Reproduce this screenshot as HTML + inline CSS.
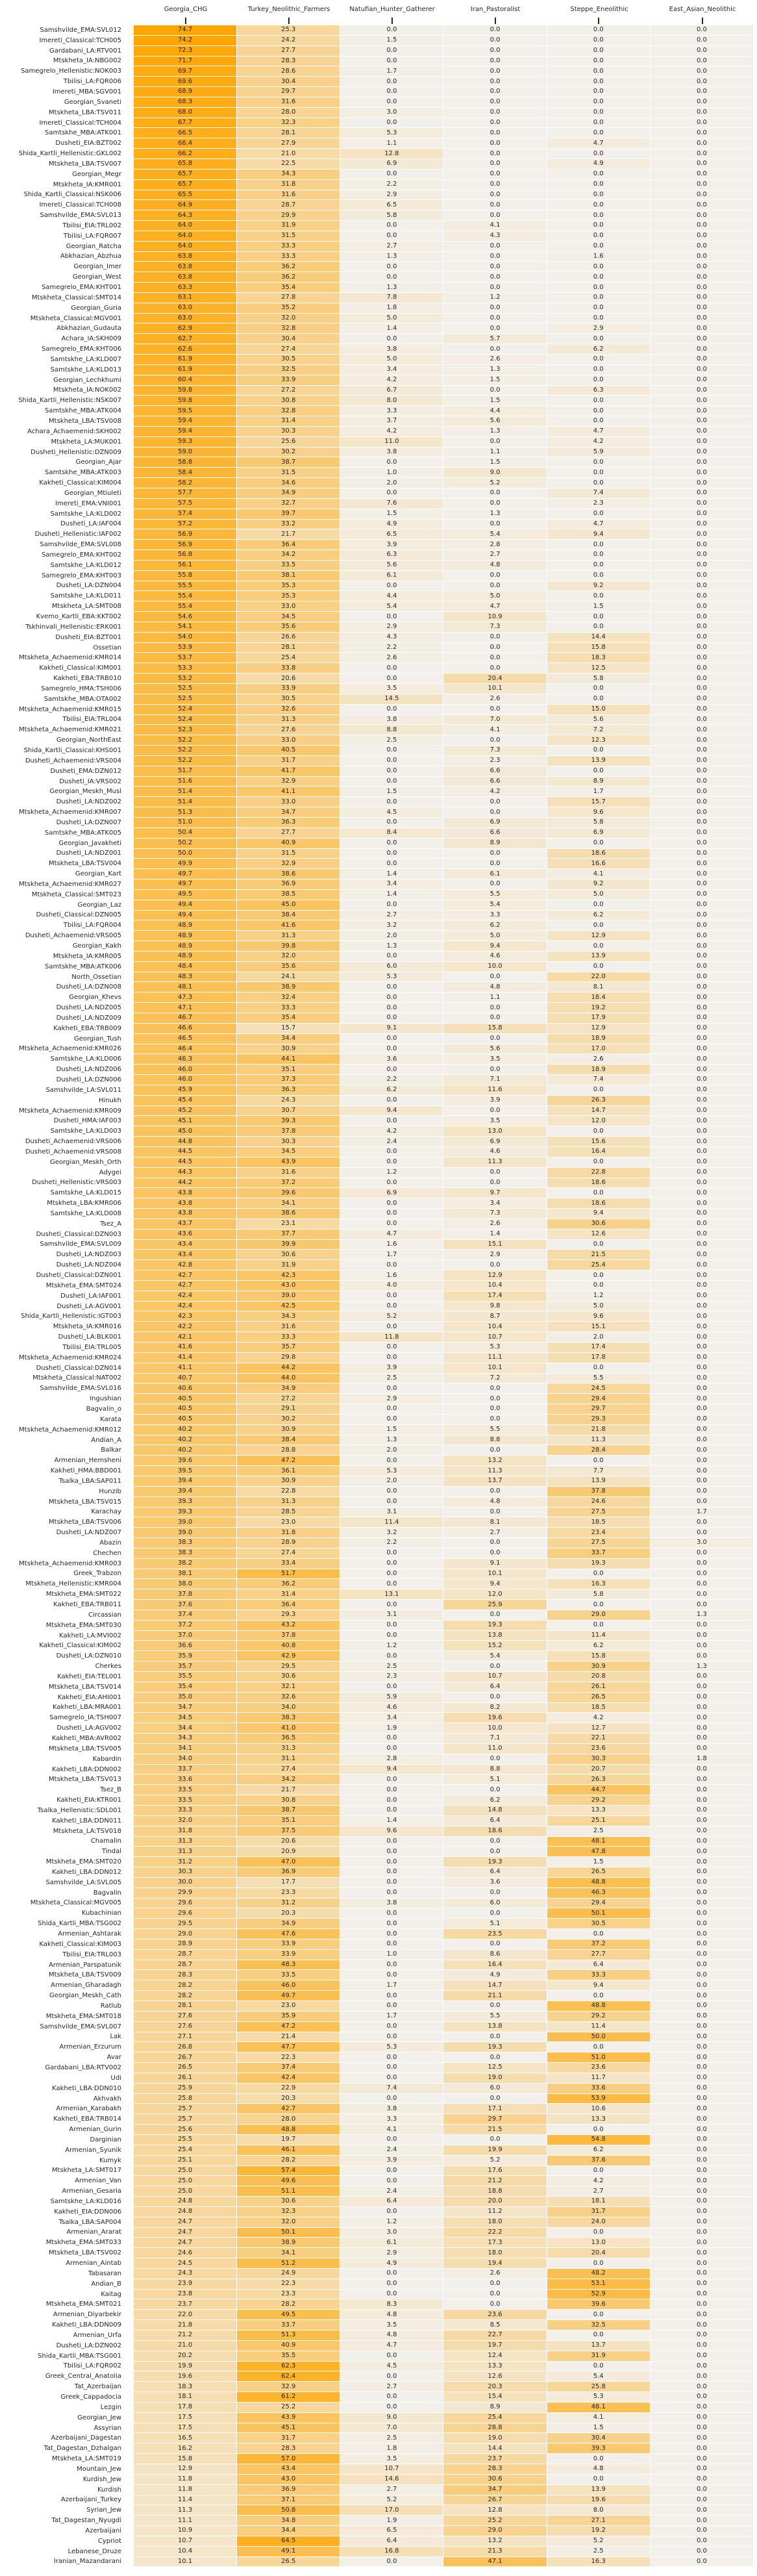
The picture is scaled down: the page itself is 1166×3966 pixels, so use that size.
<!DOCTYPE html>
<html><head><meta charset="utf-8">
<style>
html,body{margin:0;padding:0;background:#fff;}
body{width:1166px;height:3966px;position:relative;overflow:hidden;font-family:"DejaVu Sans","Liberation Sans",sans-serif;font-size:10px;color:#262626;}
.h{position:absolute;top:9px;width:160px;text-align:center;font-size:10px;color:#262626;white-space:nowrap;}
.t{position:absolute;top:27px;width:2px;height:10px;background:#262626;}
table{position:absolute;top:39px;left:0;width:1161px;table-layout:fixed;border-collapse:separate;border-spacing:0;}
col.a{width:206px;} col.b{width:159.17px;}
th{font-weight:normal;text-align:right;padding:0 19px 0 0;height:15.858px;white-space:nowrap;box-sizing:border-box;line-height:14px;}
td{padding:0;height:15.858px;box-sizing:border-box;border-right:1px solid #fff;border-bottom:1px solid #fff;text-align:center;line-height:14px;background:#f3f0eb;}
</style></head><body>
<div class="h" style="left:206px">Georgia_CHG</div>
<div class="h" style="left:365px">Turkey_Neolithic_Farmers</div>
<div class="h" style="left:524px">Natufian_Hunter_Gatherer</div>
<div class="h" style="left:683px">Iran_Pastoralist</div>
<div class="h" style="left:843px">Steppe_Eneolithic</div>
<div class="h" style="left:1002px">East_Asian_Neolithic</div>
<div class="t" style="left:284.6px"></div>
<div class="t" style="left:443.8px"></div>
<div class="t" style="left:603px"></div>
<div class="t" style="left:762.2px"></div>
<div class="t" style="left:921.3px"></div>
<div class="t" style="left:1080.5px"></div>
<table id="tb">
<colgroup><col class="a"><col class="b"><col class="b"><col class="b"><col class="b"><col class="b"><col class="b"></colgroup>
<tbody>
<tr><th>Samshvilde_EMA:SVL012<td>74.7<td>25.3<td>0.0<td>0.0<td>0.0<td>0.0
<tr><th>Imereti_Classical:TCH005<td>74.2<td>24.2<td>1.5<td>0.0<td>0.0<td>0.0
<tr><th>Gardabani_LA:RTV001<td>72.3<td>27.7<td>0.0<td>0.0<td>0.0<td>0.0
<tr><th>Mtskheta_IA:NBG002<td>71.7<td>28.3<td>0.0<td>0.0<td>0.0<td>0.0
<tr><th>Samegrelo_Hellenistic:NOK003<td>69.7<td>28.6<td>1.7<td>0.0<td>0.0<td>0.0
<tr><th>Tbilisi_LA:FQR006<td>69.6<td>30.4<td>0.0<td>0.0<td>0.0<td>0.0
<tr><th>Imereti_MBA:SGV001<td>68.9<td>29.7<td>0.0<td>0.0<td>0.0<td>0.0
<tr><th>Georgian_Svaneti<td>68.3<td>31.6<td>0.0<td>0.0<td>0.0<td>0.0
<tr><th>Mtskheta_LBA:TSV011<td>68.0<td>28.0<td>3.0<td>0.0<td>0.0<td>0.0
<tr><th>Imereti_Classical:TCH004<td>67.7<td>32.3<td>0.0<td>0.0<td>0.0<td>0.0
<tr><th>Samtskhe_MBA:ATK001<td>66.5<td>28.1<td>5.3<td>0.0<td>0.0<td>0.0
<tr><th>Dusheti_EIA:BZT002<td>66.4<td>27.9<td>1.1<td>0.0<td>4.7<td>0.0
<tr><th>Shida_Kartli_Hellenistic:GKL002<td>66.2<td>21.0<td>12.8<td>0.0<td>0.0<td>0.0
<tr><th>Mtskheta_LBA:TSV007<td>65.8<td>22.5<td>6.9<td>0.0<td>4.9<td>0.0
<tr><th>Georgian_Megr<td>65.7<td>34.3<td>0.0<td>0.0<td>0.0<td>0.0
<tr><th>Mtskheta_IA:KMR001<td>65.7<td>31.8<td>2.2<td>0.0<td>0.0<td>0.0
<tr><th>Shida_Kartli_Classical:NSK006<td>65.5<td>31.6<td>2.9<td>0.0<td>0.0<td>0.0
<tr><th>Imereti_Classical:TCH008<td>64.9<td>28.7<td>6.5<td>0.0<td>0.0<td>0.0
<tr><th>Samshvilde_EMA:SVL013<td>64.3<td>29.9<td>5.8<td>0.0<td>0.0<td>0.0
<tr><th>Tbilisi_EIA:TRL002<td>64.0<td>31.9<td>0.0<td>4.1<td>0.0<td>0.0
<tr><th>Tbilisi_LA:FQR007<td>64.0<td>31.5<td>0.0<td>4.3<td>0.0<td>0.0
<tr><th>Georgian_Ratcha<td>64.0<td>33.3<td>2.7<td>0.0<td>0.0<td>0.0
<tr><th>Abkhazian_Abzhua<td>63.8<td>33.3<td>1.3<td>0.0<td>1.6<td>0.0
<tr><th>Georgian_Imer<td>63.8<td>36.2<td>0.0<td>0.0<td>0.0<td>0.0
<tr><th>Georgian_West<td>63.8<td>36.2<td>0.0<td>0.0<td>0.0<td>0.0
<tr><th>Samegrelo_EMA:KHT001<td>63.3<td>35.4<td>1.3<td>0.0<td>0.0<td>0.0
<tr><th>Mtskheta_Classical:SMT014<td>63.1<td>27.8<td>7.8<td>1.2<td>0.0<td>0.0
<tr><th>Georgian_Guria<td>63.0<td>35.2<td>1.8<td>0.0<td>0.0<td>0.0
<tr><th>Mtskheta_Classical:MGV001<td>63.0<td>32.0<td>5.0<td>0.0<td>0.0<td>0.0
<tr><th>Abkhazian_Gudauta<td>62.9<td>32.8<td>1.4<td>0.0<td>2.9<td>0.0
<tr><th>Achara_IA:SKH009<td>62.7<td>30.4<td>0.0<td>5.7<td>0.0<td>0.0
<tr><th>Samegrelo_EMA:KHT006<td>62.6<td>27.4<td>3.8<td>0.0<td>6.2<td>0.0
<tr><th>Samtskhe_LA:KLD007<td>61.9<td>30.5<td>5.0<td>2.6<td>0.0<td>0.0
<tr><th>Samtskhe_LA:KLD013<td>61.9<td>32.5<td>3.4<td>1.3<td>0.0<td>0.0
<tr><th>Georgian_Lechkhumi<td>60.4<td>33.9<td>4.2<td>1.5<td>0.0<td>0.0
<tr><th>Mtskheta_IA:NOK002<td>59.8<td>27.2<td>6.7<td>0.0<td>6.3<td>0.0
<tr><th>Shida_Kartli_Hellenistic:NSK007<td>59.8<td>30.8<td>8.0<td>1.5<td>0.0<td>0.0
<tr><th>Samtskhe_MBA:ATK004<td>59.5<td>32.8<td>3.3<td>4.4<td>0.0<td>0.0
<tr><th>Mtskheta_LBA:TSV008<td>59.4<td>31.4<td>3.7<td>5.6<td>0.0<td>0.0
<tr><th>Achara_Achaemenid:SKH002<td>59.4<td>30.3<td>4.2<td>1.3<td>4.7<td>0.0
<tr><th>Mtskheta_LA:MUK001<td>59.3<td>25.6<td>11.0<td>0.0<td>4.2<td>0.0
<tr><th>Dusheti_Hellenistic:DZN009<td>59.0<td>30.2<td>3.8<td>1.1<td>5.9<td>0.0
<tr><th>Georgian_Ajar<td>58.8<td>38.7<td>0.0<td>1.5<td>0.0<td>0.0
<tr><th>Samtskhe_MBA:ATK003<td>58.4<td>31.5<td>1.0<td>9.0<td>0.0<td>0.0
<tr><th>Kakheti_Classical:KIM004<td>58.2<td>34.6<td>2.0<td>5.2<td>0.0<td>0.0
<tr><th>Georgian_Mtiuleti<td>57.7<td>34.9<td>0.0<td>0.0<td>7.4<td>0.0
<tr><th>Imereti_EMA:VNI001<td>57.5<td>32.7<td>7.6<td>0.0<td>2.3<td>0.0
<tr><th>Samtskhe_LA:KLD002<td>57.4<td>39.7<td>1.5<td>1.3<td>0.0<td>0.0
<tr><th>Dusheti_LA:IAF004<td>57.2<td>33.2<td>4.9<td>0.0<td>4.7<td>0.0
<tr><th>Dusheti_Hellenistic:IAF002<td>56.9<td>21.7<td>6.5<td>5.4<td>9.4<td>0.0
<tr><th>Samshvilde_EMA:SVL008<td>56.9<td>36.4<td>3.9<td>2.8<td>0.0<td>0.0
<tr><th>Samegrelo_EMA:KHT002<td>56.8<td>34.2<td>6.3<td>2.7<td>0.0<td>0.0
<tr><th>Samtskhe_LA:KLD012<td>56.1<td>33.5<td>5.6<td>4.8<td>0.0<td>0.0
<tr><th>Samegrelo_EMA:KHT003<td>55.8<td>38.1<td>6.1<td>0.0<td>0.0<td>0.0
<tr><th>Dusheti_LA:DZN004<td>55.5<td>35.3<td>0.0<td>0.0<td>9.2<td>0.0
<tr><th>Samtskhe_LA:KLD011<td>55.4<td>35.3<td>4.4<td>5.0<td>0.0<td>0.0
<tr><th>Mtskheta_LA:SMT008<td>55.4<td>33.0<td>5.4<td>4.7<td>1.5<td>0.0
<tr><th>Kvemo_Kartli_EBA:KKT002<td>54.6<td>34.5<td>0.0<td>10.9<td>0.0<td>0.0
<tr><th>Tskhinvali_Hellenistic:ERK001<td>54.1<td>35.6<td>2.9<td>7.3<td>0.0<td>0.0
<tr><th>Dusheti_EIA:BZT001<td>54.0<td>26.6<td>4.3<td>0.0<td>14.4<td>0.0
<tr><th>Ossetian<td>53.9<td>28.1<td>2.2<td>0.0<td>15.8<td>0.0
<tr><th>Mtskheta_Achaemenid:KMR014<td>53.7<td>25.4<td>2.6<td>0.0<td>18.3<td>0.0
<tr><th>Kakheti_Classical:KIM001<td>53.3<td>33.8<td>0.0<td>0.0<td>12.5<td>0.0
<tr><th>Kakheti_EBA:TRB010<td>53.2<td>20.6<td>0.0<td>20.4<td>5.8<td>0.0
<tr><th>Samegrelo_HMA:TSH006<td>52.5<td>33.9<td>3.5<td>10.1<td>0.0<td>0.0
<tr><th>Samtskhe_MBA:OTA002<td>52.5<td>30.5<td>14.5<td>2.6<td>0.0<td>0.0
<tr><th>Mtskheta_Achaemenid:KMR015<td>52.4<td>32.6<td>0.0<td>0.0<td>15.0<td>0.0
<tr><th>Tbilisi_EIA:TRL004<td>52.4<td>31.3<td>3.8<td>7.0<td>5.6<td>0.0
<tr><th>Mtskheta_Achaemenid:KMR021<td>52.3<td>27.6<td>8.8<td>4.1<td>7.2<td>0.0
<tr><th>Georgian_NorthEast<td>52.2<td>33.0<td>2.5<td>0.0<td>12.3<td>0.0
<tr><th>Shida_Kartli_Classical:KHS001<td>52.2<td>40.5<td>0.0<td>7.3<td>0.0<td>0.0
<tr><th>Dusheti_Achaemenid:VRS004<td>52.2<td>31.7<td>0.0<td>2.3<td>13.9<td>0.0
<tr><th>Dusheti_EMA:DZN012<td>51.7<td>41.7<td>0.0<td>6.6<td>0.0<td>0.0
<tr><th>Dusheti_IA:VRS002<td>51.6<td>32.9<td>0.0<td>6.6<td>8.9<td>0.0
<tr><th>Georgian_Meskh_Musl<td>51.4<td>41.1<td>1.5<td>4.2<td>1.7<td>0.0
<tr><th>Dusheti_LA:NDZ002<td>51.4<td>33.0<td>0.0<td>0.0<td>15.7<td>0.0
<tr><th>Mtskheta_Achaemenid:KMR007<td>51.3<td>34.7<td>4.5<td>0.0<td>9.6<td>0.0
<tr><th>Dusheti_LA:DZN007<td>51.0<td>36.3<td>0.0<td>6.9<td>5.8<td>0.0
<tr><th>Samtskhe_MBA:ATK005<td>50.4<td>27.7<td>8.4<td>6.6<td>6.9<td>0.0
<tr><th>Georgian_Javakheti<td>50.2<td>40.9<td>0.0<td>8.9<td>0.0<td>0.0
<tr><th>Dusheti_LA:NDZ001<td>50.0<td>31.5<td>0.0<td>0.0<td>18.6<td>0.0
<tr><th>Mtskheta_LBA:TSV004<td>49.9<td>32.9<td>0.0<td>0.0<td>16.6<td>0.0
<tr><th>Georgian_Kart<td>49.7<td>38.6<td>1.4<td>6.1<td>4.1<td>0.0
<tr><th>Mtskheta_Achaemenid:KMR027<td>49.7<td>36.9<td>3.4<td>0.0<td>9.2<td>0.0
<tr><th>Mtskheta_Classical:SMT023<td>49.5<td>38.5<td>1.4<td>5.5<td>5.0<td>0.0
<tr><th>Georgian_Laz<td>49.4<td>45.0<td>0.0<td>5.4<td>0.0<td>0.0
<tr><th>Dusheti_Classical:DZN005<td>49.4<td>38.4<td>2.7<td>3.3<td>6.2<td>0.0
<tr><th>Tbilisi_LA:FQR004<td>48.9<td>41.6<td>3.2<td>6.2<td>0.0<td>0.0
<tr><th>Dusheti_Achaemenid:VRS005<td>48.9<td>31.3<td>2.0<td>5.0<td>12.9<td>0.0
<tr><th>Georgian_Kakh<td>48.9<td>39.8<td>1.3<td>9.4<td>0.0<td>0.0
<tr><th>Mtskheta_IA:KMR005<td>48.9<td>32.0<td>0.0<td>4.6<td>13.9<td>0.0
<tr><th>Samtskhe_MBA:ATK006<td>48.4<td>35.6<td>6.0<td>10.0<td>0.0<td>0.0
<tr><th>North_Ossetian<td>48.3<td>24.1<td>5.3<td>0.0<td>22.0<td>0.0
<tr><th>Dusheti_LA:DZN008<td>48.1<td>38.9<td>0.0<td>4.8<td>8.1<td>0.0
<tr><th>Georgian_Khevs<td>47.3<td>32.4<td>0.0<td>1.1<td>18.4<td>0.0
<tr><th>Dusheti_LA:NDZ005<td>47.1<td>33.3<td>0.0<td>0.0<td>19.2<td>0.0
<tr><th>Dusheti_LA:NDZ009<td>46.7<td>35.4<td>0.0<td>0.0<td>17.9<td>0.0
<tr><th>Kakheti_EBA:TRB009<td>46.6<td>15.7<td>9.1<td>15.8<td>12.9<td>0.0
<tr><th>Georgian_Tush<td>46.5<td>34.4<td>0.0<td>0.0<td>18.9<td>0.0
<tr><th>Mtskheta_Achaemenid:KMR026<td>46.4<td>30.9<td>0.0<td>5.6<td>17.0<td>0.0
<tr><th>Samtskhe_LA:KLD006<td>46.3<td>44.1<td>3.6<td>3.5<td>2.6<td>0.0
<tr><th>Dusheti_LA:NDZ006<td>46.0<td>35.1<td>0.0<td>0.0<td>18.9<td>0.0
<tr><th>Dusheti_LA:DZN006<td>46.0<td>37.3<td>2.2<td>7.1<td>7.4<td>0.0
<tr><th>Samshvilde_LA:SVL011<td>45.9<td>36.3<td>6.2<td>11.6<td>0.0<td>0.0
<tr><th>Hinukh<td>45.4<td>24.3<td>0.0<td>3.9<td>26.3<td>0.0
<tr><th>Mtskheta_Achaemenid:KMR009<td>45.2<td>30.7<td>9.4<td>0.0<td>14.7<td>0.0
<tr><th>Dusheti_HMA:IAF003<td>45.1<td>39.3<td>0.0<td>3.5<td>12.0<td>0.0
<tr><th>Samtskhe_LA:KLD003<td>45.0<td>37.8<td>4.2<td>13.0<td>0.0<td>0.0
<tr><th>Dusheti_Achaemenid:VRS006<td>44.8<td>30.3<td>2.4<td>6.9<td>15.6<td>0.0
<tr><th>Dusheti_Achaemenid:VRS008<td>44.5<td>34.5<td>0.0<td>4.6<td>16.4<td>0.0
<tr><th>Georgian_Meskh_Orth<td>44.5<td>43.9<td>0.0<td>11.3<td>0.0<td>0.0
<tr><th>Adygei<td>44.3<td>31.6<td>1.2<td>0.0<td>22.8<td>0.0
<tr><th>Dusheti_Hellenistic:VRS003<td>44.2<td>37.2<td>0.0<td>0.0<td>18.6<td>0.0
<tr><th>Samtskhe_LA:KLD015<td>43.8<td>39.6<td>6.9<td>9.7<td>0.0<td>0.0
<tr><th>Mtskheta_LBA:KMR006<td>43.8<td>34.1<td>0.0<td>3.4<td>18.6<td>0.0
<tr><th>Samtskhe_LA:KLD008<td>43.8<td>38.6<td>0.0<td>7.3<td>9.4<td>0.0
<tr><th>Tsez_A<td>43.7<td>23.1<td>0.0<td>2.6<td>30.6<td>0.0
<tr><th>Dusheti_Classical:DZN003<td>43.6<td>37.7<td>4.7<td>1.4<td>12.6<td>0.0
<tr><th>Samshvilde_EMA:SVL009<td>43.4<td>39.9<td>1.6<td>15.1<td>0.0<td>0.0
<tr><th>Dusheti_LA:NDZ003<td>43.4<td>30.6<td>1.7<td>2.9<td>21.5<td>0.0
<tr><th>Dusheti_LA:NDZ004<td>42.8<td>31.9<td>0.0<td>0.0<td>25.4<td>0.0
<tr><th>Dusheti_Classical:DZN001<td>42.7<td>42.3<td>1.6<td>12.9<td>0.0<td>0.0
<tr><th>Mtskheta_EMA:SMT024<td>42.7<td>43.0<td>4.0<td>10.4<td>0.0<td>0.0
<tr><th>Dusheti_LA:IAF001<td>42.4<td>39.0<td>0.0<td>17.4<td>1.2<td>0.0
<tr><th>Dusheti_LA:AGV001<td>42.4<td>42.5<td>0.0<td>9.8<td>5.0<td>0.0
<tr><th>Shida_Kartli_Hellenistic:IGT003<td>42.3<td>34.3<td>5.2<td>8.7<td>9.6<td>0.0
<tr><th>Mtskheta_IA:KMR016<td>42.2<td>31.6<td>0.0<td>10.4<td>15.1<td>0.0
<tr><th>Dusheti_LA:BLK001<td>42.1<td>33.3<td>11.8<td>10.7<td>2.0<td>0.0
<tr><th>Tbilisi_EIA:TRL005<td>41.6<td>35.7<td>0.0<td>5.3<td>17.4<td>0.0
<tr><th>Mtskheta_Achaemenid:KMR024<td>41.4<td>29.8<td>0.0<td>11.1<td>17.8<td>0.0
<tr><th>Dusheti_Classical:DZN014<td>41.1<td>44.2<td>3.9<td>10.1<td>0.0<td>0.0
<tr><th>Mtskheta_Classical:NAT002<td>40.7<td>44.0<td>2.5<td>7.2<td>5.5<td>0.0
<tr><th>Samshvilde_EMA:SVL016<td>40.6<td>34.9<td>0.0<td>0.0<td>24.5<td>0.0
<tr><th>Ingushian<td>40.5<td>27.2<td>2.9<td>0.0<td>29.4<td>0.0
<tr><th>Bagvalin_o<td>40.5<td>29.1<td>0.0<td>0.0<td>29.7<td>0.0
<tr><th>Karata<td>40.5<td>30.2<td>0.0<td>0.0<td>29.3<td>0.0
<tr><th>Mtskheta_Achaemenid:KMR012<td>40.2<td>30.9<td>1.5<td>5.5<td>21.8<td>0.0
<tr><th>Andian_A<td>40.2<td>38.4<td>1.3<td>8.8<td>11.3<td>0.0
<tr><th>Balkar<td>40.2<td>28.8<td>2.0<td>0.0<td>28.4<td>0.0
<tr><th>Armenian_Hemsheni<td>39.6<td>47.2<td>0.0<td>13.2<td>0.0<td>0.0
<tr><th>Kakheti_HMA:BBD001<td>39.5<td>36.1<td>5.3<td>11.3<td>7.7<td>0.0
<tr><th>Tsalka_LBA:SAP011<td>39.4<td>30.9<td>2.0<td>13.7<td>13.9<td>0.0
<tr><th>Hunzib<td>39.4<td>22.8<td>0.0<td>0.0<td>37.8<td>0.0
<tr><th>Mtskheta_LBA:TSV015<td>39.3<td>31.3<td>0.0<td>4.8<td>24.6<td>0.0
<tr><th>Karachay<td>39.3<td>28.5<td>3.1<td>0.0<td>27.5<td>1.7
<tr><th>Mtskheta_LBA:TSV006<td>39.0<td>23.0<td>11.4<td>8.1<td>18.5<td>0.0
<tr><th>Dusheti_LA:NDZ007<td>39.0<td>31.8<td>3.2<td>2.7<td>23.4<td>0.0
<tr><th>Abazin<td>38.3<td>28.9<td>2.2<td>0.0<td>27.5<td>3.0
<tr><th>Chechen<td>38.3<td>27.4<td>0.0<td>0.0<td>33.7<td>0.0
<tr><th>Mtskheta_Achaemenid:KMR003<td>38.2<td>33.4<td>0.0<td>9.1<td>19.3<td>0.0
<tr><th>Greek_Trabzon<td>38.1<td>51.7<td>0.0<td>10.1<td>0.0<td>0.0
<tr><th>Mtskheta_Hellenistic:KMR004<td>38.0<td>36.2<td>0.0<td>9.4<td>16.3<td>0.0
<tr><th>Mtskheta_EMA:SMT022<td>37.8<td>31.4<td>13.1<td>12.0<td>5.8<td>0.0
<tr><th>Kakheti_EBA:TRB011<td>37.6<td>36.4<td>0.0<td>25.9<td>0.0<td>0.0
<tr><th>Circassian<td>37.4<td>29.3<td>3.1<td>0.0<td>29.0<td>1.3
<tr><th>Mtskheta_EMA:SMT030<td>37.2<td>43.2<td>0.0<td>19.3<td>0.0<td>0.0
<tr><th>Kakheti_LA:MVI002<td>37.0<td>37.8<td>0.0<td>13.8<td>11.4<td>0.0
<tr><th>Kakheti_Classical:KIM002<td>36.6<td>40.8<td>1.2<td>15.2<td>6.2<td>0.0
<tr><th>Dusheti_LA:DZN010<td>35.9<td>42.9<td>0.0<td>5.4<td>15.8<td>0.0
<tr><th>Cherkes<td>35.7<td>29.5<td>2.5<td>0.0<td>30.9<td>1.3
<tr><th>Kakheti_EIA:TEL001<td>35.5<td>30.6<td>2.3<td>10.7<td>20.8<td>0.0
<tr><th>Mtskheta_LBA:TSV014<td>35.4<td>32.1<td>0.0<td>6.4<td>26.1<td>0.0
<tr><th>Kakheti_EIA:AHI001<td>35.0<td>32.6<td>5.9<td>0.0<td>26.5<td>0.0
<tr><th>Kakheti_LBA:MRA001<td>34.7<td>34.0<td>4.6<td>8.2<td>18.5<td>0.0
<tr><th>Samegrelo_IA:TSH007<td>34.5<td>38.3<td>3.4<td>19.6<td>4.2<td>0.0
<tr><th>Dusheti_LA:AGV002<td>34.4<td>41.0<td>1.9<td>10.0<td>12.7<td>0.0
<tr><th>Kakheti_MBA:AVR002<td>34.3<td>36.5<td>0.0<td>7.1<td>22.1<td>0.0
<tr><th>Mtskheta_LBA:TSV005<td>34.1<td>31.3<td>0.0<td>11.0<td>23.6<td>0.0
<tr><th>Kabardin<td>34.0<td>31.1<td>2.8<td>0.0<td>30.3<td>1.8
<tr><th>Kakheti_LBA:DDN002<td>33.7<td>27.4<td>9.4<td>8.8<td>20.7<td>0.0
<tr><th>Mtskheta_LBA:TSV013<td>33.6<td>34.2<td>0.0<td>5.1<td>26.3<td>0.0
<tr><th>Tsez_B<td>33.5<td>21.7<td>0.0<td>0.0<td>44.7<td>0.0
<tr><th>Kakheti_EIA:KTR001<td>33.5<td>30.8<td>0.0<td>6.2<td>29.2<td>0.0
<tr><th>Tsalka_Hellenistic:SDL001<td>33.3<td>38.7<td>0.0<td>14.8<td>13.3<td>0.0
<tr><th>Kakheti_LBA:DDN011<td>32.0<td>35.1<td>1.4<td>6.4<td>25.1<td>0.0
<tr><th>Mtskheta_LA:TSV018<td>31.8<td>37.5<td>9.6<td>18.6<td>2.5<td>0.0
<tr><th>Chamalin<td>31.3<td>20.6<td>0.0<td>0.0<td>48.1<td>0.0
<tr><th>Tindal<td>31.3<td>20.9<td>0.0<td>0.0<td>47.8<td>0.0
<tr><th>Mtskheta_EMA:SMT020<td>31.2<td>47.0<td>0.0<td>19.3<td>1.5<td>0.0
<tr><th>Kakheti_LBA:DDN012<td>30.3<td>36.9<td>0.0<td>6.4<td>26.5<td>0.0
<tr><th>Samshvilde_LA:SVL005<td>30.0<td>17.7<td>0.0<td>3.6<td>48.8<td>0.0
<tr><th>Bagvalin<td>29.9<td>23.3<td>0.0<td>0.0<td>46.3<td>0.0
<tr><th>Mtskheta_Classical:MGV005<td>29.6<td>31.2<td>3.8<td>6.0<td>29.4<td>0.0
<tr><th>Kubachinian<td>29.6<td>20.3<td>0.0<td>0.0<td>50.1<td>0.0
<tr><th>Shida_Kartli_MBA:TSG002<td>29.5<td>34.9<td>0.0<td>5.1<td>30.5<td>0.0
<tr><th>Armenian_Ashtarak<td>29.0<td>47.6<td>0.0<td>23.5<td>0.0<td>0.0
<tr><th>Kakheti_Classical:KIM003<td>28.9<td>33.9<td>0.0<td>0.0<td>37.2<td>0.0
<tr><th>Tbilisi_EIA:TRL003<td>28.7<td>33.9<td>1.0<td>8.6<td>27.7<td>0.0
<tr><th>Armenian_Parspatunik<td>28.7<td>48.3<td>0.0<td>16.4<td>6.4<td>0.0
<tr><th>Mtskheta_LBA:TSV009<td>28.3<td>33.5<td>0.0<td>4.9<td>33.3<td>0.0
<tr><th>Armenian_Gharadagh<td>28.2<td>46.0<td>1.7<td>14.7<td>9.4<td>0.0
<tr><th>Georgian_Meskh_Cath<td>28.2<td>49.7<td>0.0<td>21.1<td>0.0<td>0.0
<tr><th>Ratlub<td>28.1<td>23.0<td>0.0<td>0.0<td>48.8<td>0.0
<tr><th>Mtskheta_EMA:SMT018<td>27.6<td>35.9<td>1.7<td>5.5<td>29.2<td>0.0
<tr><th>Samshvilde_EMA:SVL007<td>27.6<td>47.2<td>0.0<td>13.8<td>11.4<td>0.0
<tr><th>Lak<td>27.1<td>21.4<td>0.0<td>0.0<td>50.0<td>0.0
<tr><th>Armenian_Erzurum<td>26.8<td>47.7<td>5.3<td>19.3<td>0.0<td>0.0
<tr><th>Avar<td>26.7<td>22.3<td>0.0<td>0.0<td>51.0<td>0.0
<tr><th>Gardabani_LBA:RTV002<td>26.5<td>37.4<td>0.0<td>12.5<td>23.6<td>0.0
<tr><th>Udi<td>26.1<td>42.4<td>0.0<td>19.0<td>11.7<td>0.0
<tr><th>Kakheti_LBA:DDN010<td>25.9<td>22.9<td>7.4<td>6.0<td>33.6<td>0.0
<tr><th>Akhvakh<td>25.8<td>20.3<td>0.0<td>0.0<td>53.9<td>0.0
<tr><th>Armenian_Karabakh<td>25.7<td>42.7<td>3.8<td>17.1<td>10.6<td>0.0
<tr><th>Kakheti_EBA:TRB014<td>25.7<td>28.0<td>3.3<td>29.7<td>13.3<td>0.0
<tr><th>Armenian_Gurin<td>25.6<td>48.8<td>4.1<td>21.5<td>0.0<td>0.0
<tr><th>Darginian<td>25.5<td>19.7<td>0.0<td>0.0<td>54.8<td>0.0
<tr><th>Armenian_Syunik<td>25.4<td>46.1<td>2.4<td>19.9<td>6.2<td>0.0
<tr><th>Kumyk<td>25.1<td>28.2<td>3.9<td>5.2<td>37.6<td>0.0
<tr><th>Mtskheta_LA:SMT017<td>25.0<td>57.4<td>0.0<td>17.6<td>0.0<td>0.0
<tr><th>Armenian_Van<td>25.0<td>49.6<td>0.0<td>21.2<td>4.2<td>0.0
<tr><th>Armenian_Gesaria<td>25.0<td>51.1<td>2.4<td>18.8<td>2.7<td>0.0
<tr><th>Samtskhe_LA:KLD016<td>24.8<td>30.6<td>6.4<td>20.0<td>18.1<td>0.0
<tr><th>Kakheti_EIA:DDN006<td>24.8<td>32.3<td>0.0<td>11.2<td>31.7<td>0.0
<tr><th>Tsalka_LBA:SAP004<td>24.7<td>32.0<td>1.2<td>18.0<td>24.0<td>0.0
<tr><th>Armenian_Ararat<td>24.7<td>50.1<td>3.0<td>22.2<td>0.0<td>0.0
<tr><th>Mtskheta_EMA:SMT033<td>24.7<td>38.9<td>6.1<td>17.3<td>13.0<td>0.0
<tr><th>Mtskheta_LBA:TSV002<td>24.6<td>34.1<td>2.9<td>18.0<td>20.4<td>0.0
<tr><th>Armenian_Aintab<td>24.5<td>51.2<td>4.9<td>19.4<td>0.0<td>0.0
<tr><th>Tabasaran<td>24.3<td>24.9<td>0.0<td>2.6<td>48.2<td>0.0
<tr><th>Andian_B<td>23.9<td>22.3<td>0.0<td>0.0<td>53.1<td>0.0
<tr><th>Kaitag<td>23.8<td>23.3<td>0.0<td>0.0<td>52.9<td>0.0
<tr><th>Mtskheta_EMA:SMT021<td>23.7<td>28.2<td>8.3<td>0.0<td>39.6<td>0.0
<tr><th>Armenian_Diyarbekir<td>22.0<td>49.5<td>4.8<td>23.6<td>0.0<td>0.0
<tr><th>Kakheti_LBA:DDN009<td>21.8<td>33.7<td>3.5<td>8.5<td>32.5<td>0.0
<tr><th>Armenian_Urfa<td>21.2<td>51.3<td>4.8<td>22.7<td>0.0<td>0.0
<tr><th>Dusheti_LA:DZN002<td>21.0<td>40.9<td>4.7<td>19.7<td>13.7<td>0.0
<tr><th>Shida_Kartli_MBA:TSG001<td>20.2<td>35.5<td>0.0<td>12.4<td>31.9<td>0.0
<tr><th>Tbilisi_LA:FQR002<td>19.9<td>62.3<td>4.5<td>13.3<td>0.0<td>0.0
<tr><th>Greek_Central_Anatolia<td>19.6<td>62.4<td>0.0<td>12.6<td>5.4<td>0.0
<tr><th>Tat_Azerbaijan<td>18.3<td>32.9<td>2.7<td>20.3<td>25.8<td>0.0
<tr><th>Greek_Cappadocia<td>18.1<td>61.2<td>0.0<td>15.4<td>5.3<td>0.0
<tr><th>Lezgin<td>17.8<td>25.2<td>0.0<td>8.9<td>48.1<td>0.0
<tr><th>Georgian_Jew<td>17.5<td>43.9<td>9.0<td>25.4<td>4.1<td>0.0
<tr><th>Assyrian<td>17.5<td>45.1<td>7.0<td>28.8<td>1.5<td>0.0
<tr><th>Azerbaijani_Dagestan<td>16.5<td>31.7<td>2.5<td>19.0<td>30.4<td>0.0
<tr><th>Tat_Dagestan_Dzhalgan<td>16.2<td>28.3<td>1.8<td>14.4<td>39.3<td>0.0
<tr><th>Mtskheta_LA:SMT019<td>15.8<td>57.0<td>3.5<td>23.7<td>0.0<td>0.0
<tr><th>Mountain_Jew<td>12.9<td>43.4<td>10.7<td>28.3<td>4.8<td>0.0
<tr><th>Kurdish_Jew<td>11.8<td>43.0<td>14.6<td>30.6<td>0.0<td>0.0
<tr><th>Kurdish<td>11.8<td>36.9<td>2.7<td>34.7<td>13.9<td>0.0
<tr><th>Azerbaijani_Turkey<td>11.4<td>37.1<td>5.2<td>26.7<td>19.6<td>0.0
<tr><th>Syrian_Jew<td>11.3<td>50.8<td>17.0<td>12.8<td>8.0<td>0.0
<tr><th>Tat_Dagestan_Nyugdi<td>11.1<td>34.8<td>1.9<td>25.2<td>27.1<td>0.0
<tr><th>Azerbaijani<td>10.9<td>34.4<td>6.5<td>29.0<td>19.2<td>0.0
<tr><th>Cypriot<td>10.7<td>64.5<td>6.4<td>13.2<td>5.2<td>0.0
<tr><th>Lebanese_Druze<td>10.4<td>49.1<td>16.8<td>21.3<td>2.5<td>0.0
<tr><th>Iranian_Mazandarani<td>10.1<td>26.5<td>0.0<td>47.1<td>16.3<td>0.0
</tbody></table>
<script>
(function(){
  var tds=document.querySelectorAll('#tb td');
  var c0=[243,240,235], c1=[255,165,0];
  for(var i=0;i<tds.length;i++){
    var v=parseFloat(tds[i].textContent)||0;
    var t=Math.min(1,v/75);
    var r=Math.round(c0[0]+(c1[0]-c0[0])*t),g=Math.round(c0[1]+(c1[1]-c0[1])*t),b=Math.round(c0[2]+(c1[2]-c0[2])*t);
    tds[i].style.background='rgb('+r+','+g+','+b+')';
  }
})();
</script>
</body></html>
